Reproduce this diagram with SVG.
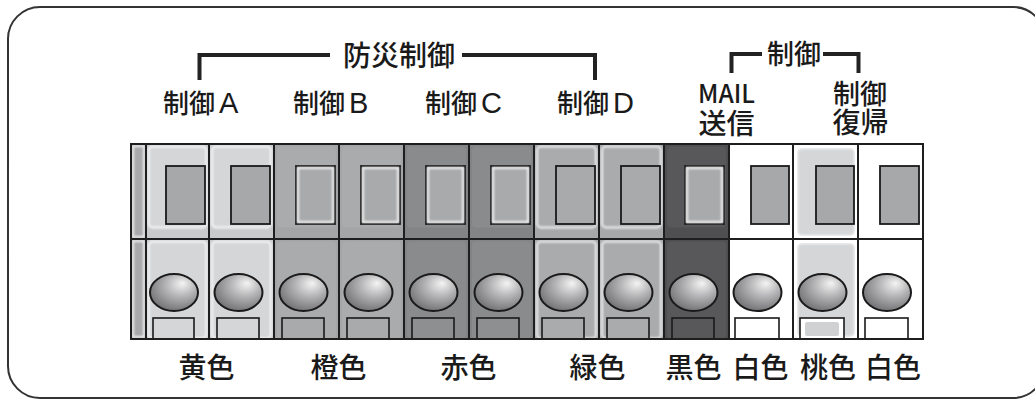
<svg xmlns="http://www.w3.org/2000/svg" width="1035" height="401" viewBox="0 0 1035 401">
<style>
.t{font-family:"Liberation Sans","Noto Sans CJK JP",sans-serif;fill:#1a1a1a;font-weight:500}
.grid{fill:none;stroke:#1e1e1e;stroke-width:2}
.win{stroke:#1a1a1a;stroke-width:1.8}
.lamp{fill:url(#lampg);stroke:#1a1a1a;stroke-width:2}
.base{stroke:#1a1a1a;stroke-width:1.6}
.glow{fill:none;stroke:#ffffff;stroke-opacity:0.85;stroke-width:2;filter:url(#soft)}
.br{fill:none;stroke:#222;stroke-width:4}
</style>
<defs>
<filter id="soft" x="-10%" y="-10%" width="120%" height="120%"><feGaussianBlur stdDeviation="0.9"/></filter>
<radialGradient id="lampg" cx="0.6" cy="0.35" r="0.7" fx="0.68" fy="0.25">
<stop offset="0" stop-color="#f4f4f4"/>
<stop offset="0.45" stop-color="#b4b4b6"/>
<stop offset="1" stop-color="#6e6e70"/>
</radialGradient>
</defs>
<rect x="8" y="7" width="1037" height="391" rx="32" fill="#fff" stroke="#333" stroke-width="2"/>

<g id="connectors">
<polyline class="br" points="199.5,80 199.5,55 330,55"/>
<polyline class="br" points="462,55 595,55 595,80"/>
<polyline class="br" points="731.5,73 731.5,54 762,54"/>
<polyline class="br" points="823,54 858.5,54 858.5,73"/>
</g>

<g id="labels-top">
<text class="t" x="399" y="66" font-size="28" text-anchor="middle">防災制御</text>
<text class="t" x="163" y="113" font-size="26">制御<tspan dx="4" font-size="29">A</tspan></text>
<text class="t" x="293" y="113" font-size="26">制御<tspan dx="4" font-size="29">B</tspan></text>
<text class="t" x="425" y="113" font-size="26">制御<tspan dx="4" font-size="29">C</tspan></text>
<text class="t" x="557" y="113" font-size="26">制御<tspan dx="4" font-size="29">D</tspan></text>
<text class="t" x="794" y="64" font-size="27" text-anchor="middle">制御</text>
<text x="698" y="103" font-size="26" font-family="Noto Sans CJK JP,sans-serif" font-weight="500" fill="#1a1a1a" textLength="57" lengthAdjust="spacingAndGlyphs">MAIL</text>
<text class="t" x="726.5" y="134" font-size="28" text-anchor="middle">送信</text>
<text class="t" x="860" y="104" font-size="27" text-anchor="middle">制御</text>
<text class="t" x="860.5" y="133" font-size="28" text-anchor="middle">復帰</text>
</g>

<g id="strip">
<rect x="131" y="144" width="15" height="195" fill="#a9a9ab"/>
<rect x="133" y="146" width="11" height="91" class="glow" stroke-opacity="0.4"/>
<rect x="133" y="241" width="11" height="96" class="glow" stroke-opacity="0.4"/>
</g>

<g id="col1">
<rect x="146" y="144" width="63" height="195" fill="#c9cacc"/>
<rect x="148.5" y="146.5" width="58" height="81" rx="4" fill="#d5d6d8"/><rect x="148.5" y="146.5" width="58" height="81" rx="4" class="glow"/>
<rect x="148.5" y="241.5" width="58" height="97" rx="4" fill="#d5d6d8"/><rect x="148.5" y="241.5" width="58" height="97" rx="4" class="glow"/>
<rect x="166" y="166" width="39" height="58" class="win" fill="#a7a8aa"/>
<ellipse cx="174" cy="292.5" rx="24" ry="18.5" class="lamp"/>
<rect x="153" y="318" width="41" height="21" class="base" fill="#d5d6d8"/>
</g>
<g id="col2">
<rect x="209" y="144" width="65" height="195" fill="#c9cacc"/>
<rect x="212" y="146.5" width="59" height="81" rx="4" fill="#d5d6d8"/><rect x="212" y="146.5" width="59" height="81" rx="4" class="glow"/>
<rect x="212" y="241.5" width="59" height="97" rx="4" fill="#d5d6d8"/><rect x="212" y="241.5" width="59" height="97" rx="4" class="glow"/>
<rect x="231" y="166" width="39" height="58" class="win" fill="#a7a8aa"/>
<ellipse cx="238.5" cy="292.5" rx="24" ry="18.5" class="lamp"/>
<rect x="217" y="318" width="42" height="21" class="base" fill="#d5d6d8"/>
</g>
<g id="col3">
<rect x="274" y="144" width="65" height="195" fill="#a4a5a7"/>
<rect x="277" y="146.5" width="59" height="81" rx="4" fill="#aaabad"/>
<rect x="277" y="241.5" width="59" height="97" rx="4" fill="#aaabad"/>
<rect x="296" y="166" width="39" height="58" class="win" fill="#a9aaac"/><rect x="298" y="168" width="35" height="54" class="glow"/>
<ellipse cx="303.5" cy="292.5" rx="24" ry="18.5" class="lamp"/>
<rect x="282" y="318" width="42" height="21" class="base" fill="#a9aaac"/>
</g>
<g id="col4">
<rect x="339" y="144" width="65" height="195" fill="#a4a5a7"/>
<rect x="342" y="146.5" width="59" height="81" rx="4" fill="#aaabad"/>
<rect x="342" y="241.5" width="59" height="97" rx="4" fill="#aaabad"/>
<rect x="361" y="166" width="39" height="58" class="win" fill="#a9aaac"/><rect x="363" y="168" width="35" height="54" class="glow"/>
<ellipse cx="368.5" cy="292.5" rx="24" ry="18.5" class="lamp"/>
<rect x="347" y="318" width="42" height="21" class="base" fill="#a9aaac"/>
</g>
<g id="col5">
<rect x="404" y="144" width="65" height="195" fill="#838486"/>
<rect x="407" y="146.5" width="59" height="81" rx="4" fill="#8a8b8d"/>
<rect x="407" y="241.5" width="59" height="97" rx="4" fill="#8a8b8d"/>
<rect x="426" y="166" width="39" height="58" class="win" fill="#a9aaac"/><rect x="428" y="168" width="35" height="54" class="glow"/>
<ellipse cx="433.5" cy="292.5" rx="24" ry="18.5" class="lamp"/>
<rect x="412" y="318" width="42" height="21" class="base" fill="#8e8f91"/>
</g>
<g id="col6">
<rect x="469" y="144" width="65" height="195" fill="#838486"/>
<rect x="472" y="146.5" width="59" height="81" rx="4" fill="#8a8b8d"/>
<rect x="472" y="241.5" width="59" height="97" rx="4" fill="#8a8b8d"/>
<rect x="491" y="166" width="39" height="58" class="win" fill="#a9aaac"/><rect x="493" y="168" width="35" height="54" class="glow"/>
<ellipse cx="498.5" cy="292.5" rx="24" ry="18.5" class="lamp"/>
<rect x="477" y="318" width="42" height="21" class="base" fill="#8e8f91"/>
</g>
<g id="col7">
<rect x="534" y="144" width="65" height="195" fill="#a7a8aa"/>
<rect x="537" y="146.5" width="59" height="81" rx="4" fill="#aaabad"/><rect x="537" y="146.5" width="59" height="81" rx="4" class="glow" stroke-opacity="0.6"/>
<rect x="537" y="241.5" width="59" height="97" rx="4" fill="#aaabad"/><rect x="537" y="241.5" width="59" height="97" rx="4" class="glow" stroke-opacity="0.6"/>
<rect x="556" y="166" width="39" height="58" class="win" fill="#a9aaac"/>
<ellipse cx="563.5" cy="292.5" rx="24" ry="18.5" class="lamp"/>
<rect x="542" y="318" width="42" height="21" class="base" fill="#aaabad"/>
</g>
<g id="col8">
<rect x="599" y="144" width="65" height="195" fill="#a7a8aa"/>
<rect x="602" y="146.5" width="59" height="81" rx="4" fill="#aaabad"/><rect x="602" y="146.5" width="59" height="81" rx="4" class="glow" stroke-opacity="0.6"/>
<rect x="602" y="241.5" width="59" height="97" rx="4" fill="#aaabad"/><rect x="602" y="241.5" width="59" height="97" rx="4" class="glow" stroke-opacity="0.6"/>
<rect x="621" y="166" width="39" height="58" class="win" fill="#a9aaac"/>
<ellipse cx="628.5" cy="292.5" rx="24" ry="18.5" class="lamp"/>
<rect x="607" y="318" width="42" height="21" class="base" fill="#aaabad"/>
</g>
<g id="col9">
<rect x="664" y="144" width="65" height="195" fill="#4f4f51"/>
<rect x="667" y="146.5" width="59" height="81" rx="4" fill="#58585a"/>
<rect x="667" y="241.5" width="59" height="97" rx="4" fill="#58585a"/>
<rect x="685" y="166" width="39" height="58" class="win" fill="#a9aaac"/><rect x="687" y="168" width="35" height="54" class="glow"/>
<ellipse cx="693.5" cy="292.5" rx="24" ry="18.5" class="lamp"/>
<rect x="672" y="318" width="42" height="21" class="base" fill="#58585a"/>
</g>
<g id="col10">
<rect x="729" y="144" width="64" height="195" fill="#ffffff"/>
<rect x="751" y="166" width="38" height="58" class="win" fill="#a7a8aa"/>
<ellipse cx="757.5" cy="292.5" rx="24" ry="18.5" class="lamp"/>
<rect x="735" y="318" width="44" height="21" class="base" fill="#ffffff"/>
</g>
<g id="col11">
<rect x="793" y="144" width="65" height="195" fill="#ffffff"/>
<rect x="797" y="148" width="58" height="88" rx="5" fill="#d5d6d8"/><rect x="797" y="148" width="58" height="88" rx="5" class="glow"/>
<rect x="797" y="243" width="58" height="94" rx="5" fill="#d5d6d8"/><rect x="797" y="243" width="58" height="94" rx="5" class="glow"/>
<rect x="816" y="166" width="38" height="58" class="win" fill="#a7a8aa"/>
<ellipse cx="822.5" cy="292.5" rx="24" ry="18.5" class="lamp"/>
<rect x="800" y="318" width="44" height="21" class="base" fill="#ffffff"/>
<rect x="805" y="322" width="34" height="14" rx="2" fill="#d0d1d3"/>
</g>
<g id="col12">
<rect x="858" y="144" width="65" height="195" fill="#ffffff"/>
<rect x="880" y="166" width="39" height="58" class="win" fill="#a7a8aa"/>
<ellipse cx="887" cy="292.5" rx="24" ry="18.5" class="lamp"/>
<rect x="865" y="318" width="43" height="21" class="base" fill="#ffffff"/>
</g>

<g id="panel-grid">
<rect x="131" y="144" width="792" height="195" class="grid"/>
<line x1="131" y1="239" x2="923" y2="239" class="grid"/>
<path class="grid" d="M146 144V339M209 144V339M274 144V339M339 144V339M404 144V339M469 144V339M534 144V339M599 144V339M664 144V339M729 144V339M793 144V339M858 144V339"/>
</g>

<g id="labels-bottom">
<text class="t" x="206.5" y="378" font-size="28" text-anchor="middle">黄色</text>
<text class="t" x="338.5" y="378" font-size="28" text-anchor="middle">橙色</text>
<text class="t" x="468.5" y="378" font-size="28" text-anchor="middle">赤色</text>
<text class="t" x="597.5" y="378" font-size="28" text-anchor="middle">緑色</text>
<text class="t" x="693.5" y="378" font-size="28" text-anchor="middle">黒色</text>
<text class="t" x="760.5" y="378" font-size="28" text-anchor="middle">白色</text>
<text class="t" x="828" y="378" font-size="28" text-anchor="middle">桃色</text>
<text class="t" x="893" y="378" font-size="28" text-anchor="middle">白色</text>
</g>
</svg>
